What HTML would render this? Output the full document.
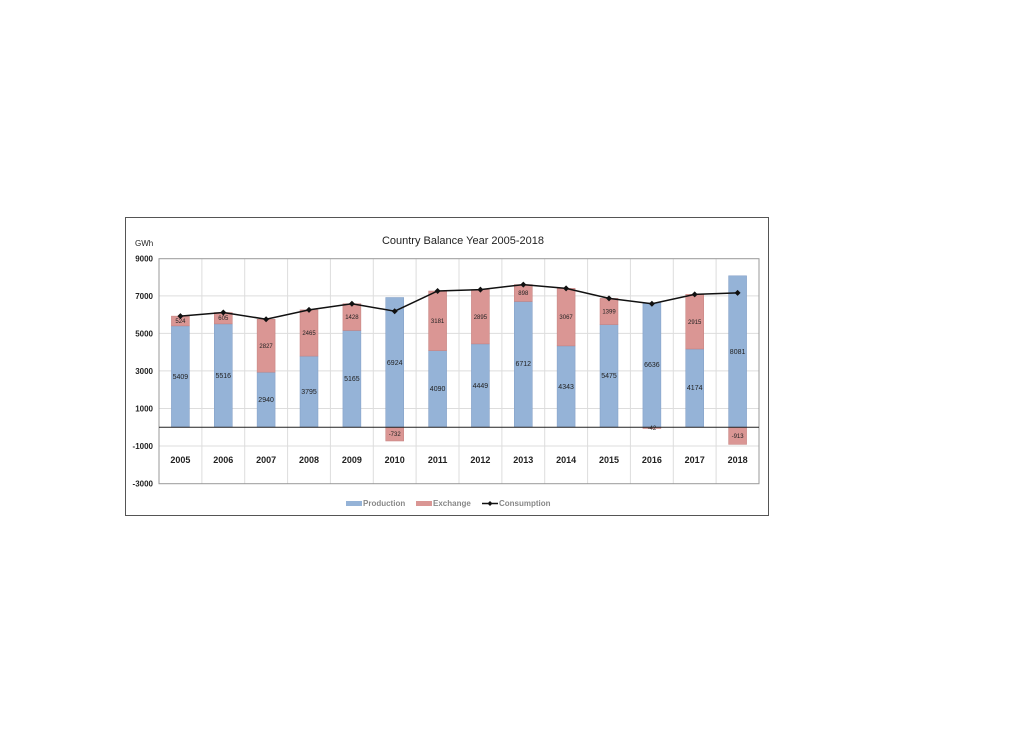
<!DOCTYPE html>
<html><head><meta charset="utf-8"><style>html,body{margin:0;padding:0;background:#fff;}svg{display:block;}</style></head><body>
<svg width="1024" height="738" xmlns="http://www.w3.org/2000/svg" font-family="Liberation Sans, sans-serif">
<rect x="125.5" y="217.5" width="643" height="298" fill="#fff" stroke="#555" stroke-width="1"/>
<text x="463" y="244" font-size="11" text-anchor="middle" fill="#222">Country Balance Year 2005-2018</text>
<text x="135" y="246" font-size="8" fill="#222">GWh</text>
<g stroke="#ddd" stroke-width="1">
<line x1="159" y1="295.9" x2="759" y2="295.9"/><line x1="159" y1="333.4" x2="759" y2="333.4"/><line x1="159" y1="370.9" x2="759" y2="370.9"/><line x1="159" y1="408.5" x2="759" y2="408.5"/><line x1="159" y1="446" x2="759" y2="446"/>
<line x1="201.9" y1="258.7" x2="201.9" y2="483.7"/><line x1="244.7" y1="258.7" x2="244.7" y2="483.7"/><line x1="287.6" y1="258.7" x2="287.6" y2="483.7"/><line x1="330.4" y1="258.7" x2="330.4" y2="483.7"/><line x1="373.3" y1="258.7" x2="373.3" y2="483.7"/><line x1="416.1" y1="258.7" x2="416.1" y2="483.7"/><line x1="459" y1="258.7" x2="459" y2="483.7"/><line x1="501.9" y1="258.7" x2="501.9" y2="483.7"/><line x1="544.7" y1="258.7" x2="544.7" y2="483.7"/><line x1="587.6" y1="258.7" x2="587.6" y2="483.7"/><line x1="630.4" y1="258.7" x2="630.4" y2="483.7"/><line x1="673.3" y1="258.7" x2="673.3" y2="483.7"/><line x1="716.1" y1="258.7" x2="716.1" y2="483.7"/>
</g>
<rect x="159" y="258.7" width="600" height="225" fill="none" stroke="#999"/>
<g font-size="8" font-weight="bold" fill="#222" text-anchor="end">
<text x="153" y="261.5">9000</text><text x="153" y="299">7000</text><text x="153" y="336.5">5000</text><text x="153" y="374">3000</text><text x="153" y="411.5">1000</text><text x="153" y="449">-1000</text><text x="153" y="486.5">-3000</text>
</g>
<g fill="#95b3d7" stroke="#7f9cc4" stroke-width="0.5">
<rect x="171.4" y="325.9" width="18" height="101.4"/><rect x="214.3" y="323.9" width="18" height="103.4"/><rect x="257.1" y="372.2" width="18" height="55.1"/><rect x="300" y="356.1" width="18" height="71.2"/><rect x="342.9" y="330.5" width="18" height="96.8"/><rect x="385.7" y="297.5" width="18" height="129.8"/><rect x="428.6" y="350.6" width="18" height="76.7"/><rect x="471.4" y="343.9" width="18" height="83.4"/><rect x="514.3" y="301.5" width="18" height="125.8"/><rect x="557.1" y="345.9" width="18" height="81.4"/><rect x="600" y="324.6" width="18" height="102.7"/><rect x="642.9" y="302.9" width="18" height="124.4"/><rect x="685.7" y="349" width="18" height="78.3"/><rect x="728.6" y="275.8" width="18" height="151.5"/>
</g>
<g fill="#da9694" stroke="#c47f7d" stroke-width="0.5">
<rect x="171.4" y="316.1" width="18" height="9.8"/><rect x="214.3" y="312.5" width="18" height="11.4"/><rect x="257.1" y="319.2" width="18" height="53"/><rect x="300" y="309.9" width="18" height="46.2"/><rect x="342.9" y="303.7" width="18" height="26.8"/><rect x="385.7" y="427.3" width="18" height="13.7"/><rect x="428.6" y="291" width="18" height="59.6"/><rect x="471.4" y="289.6" width="18" height="54.3"/><rect x="514.3" y="284.6" width="18" height="16.9"/><rect x="557.1" y="288.4" width="18" height="57.5"/><rect x="600" y="298.4" width="18" height="26.2"/><rect x="642.9" y="427.3" width="18" height="1.2"/><rect x="685.7" y="294.4" width="18" height="54.6"/><rect x="728.6" y="427.3" width="18" height="17.1"/>
</g>
<line x1="159" y1="427.3" x2="759" y2="427.3" stroke="#222" stroke-width="1"/>
<g font-size="7" fill="#222" text-anchor="middle">
<text x="180.4" y="379">5409</text><text x="223.3" y="378">5516</text><text x="266.1" y="402">2940</text><text x="309" y="394">3795</text><text x="351.9" y="381">5165</text><text x="394.7" y="365">6924</text><text x="437.6" y="391">4090</text><text x="480.4" y="388">4449</text><text x="523.3" y="366">6712</text><text x="566.1" y="389">4343</text><text x="609" y="378">5475</text><text x="651.9" y="367">6636</text><text x="694.7" y="390">4174</text><text x="737.6" y="354">8081</text>
</g>
<g font-size="6" fill="#222" text-anchor="middle">
<text x="180.4" y="323">524</text><text x="223.3" y="320">605</text><text x="266.1" y="348">2827</text><text x="309" y="335">2465</text><text x="351.9" y="319">1428</text><text x="394.7" y="436">-732</text><text x="437.6" y="323">3181</text><text x="480.4" y="319">2895</text><text x="523.3" y="295">898</text><text x="566.1" y="319">3067</text><text x="609" y="313.5">1399</text><text x="651.9" y="430">-42</text><text x="694.7" y="324">2915</text><text x="737.6" y="438">-913</text>
</g>
<polyline fill="none" stroke="#111" stroke-width="1.5" points="180.4,316.1 223.3,312.5 266.1,319.2 309,309.9 351.9,303.7 394.7,311.2 437.6,291 480.4,289.6 523.3,284.6 566.1,288.4 609,298.4 651.9,303.7 694.7,294.4 737.6,292.9"/>
<g fill="#111">
<path d="M180.4 313.1l3 3-3 3-3-3z"/><path d="M223.3 309.5l3 3-3 3-3-3z"/><path d="M266.1 316.2l3 3-3 3-3-3z"/><path d="M309 306.9l3 3-3 3-3-3z"/><path d="M351.9 300.7l3 3-3 3-3-3z"/><path d="M394.7 308.2l3 3-3 3-3-3z"/><path d="M437.6 288l3 3-3 3-3-3z"/><path d="M480.4 286.6l3 3-3 3-3-3z"/><path d="M523.3 281.6l3 3-3 3-3-3z"/><path d="M566.1 285.4l3 3-3 3-3-3z"/><path d="M609 295.4l3 3-3 3-3-3z"/><path d="M651.9 300.7l3 3-3 3-3-3z"/><path d="M694.7 291.4l3 3-3 3-3-3z"/><path d="M737.6 289.9l3 3-3 3-3-3z"/>
</g>
<g font-size="9" font-weight="bold" fill="#222" text-anchor="middle">
<text x="180.4" y="463">2005</text><text x="223.3" y="463">2006</text><text x="266.1" y="463">2007</text><text x="309" y="463">2008</text><text x="351.9" y="463">2009</text><text x="394.7" y="463">2010</text><text x="437.6" y="463">2011</text><text x="480.4" y="463">2012</text><text x="523.3" y="463">2013</text><text x="566.1" y="463">2014</text><text x="609" y="463">2015</text><text x="651.9" y="463">2016</text><text x="694.7" y="463">2017</text><text x="737.6" y="463">2018</text>
</g>
<rect x="346" y="501" width="16" height="5" fill="#95b3d7"/>
<text x="363" y="506" font-size="8" font-weight="bold" fill="#888">Production</text>
<rect x="416" y="501" width="16" height="5" fill="#da9694"/>
<text x="433" y="506" font-size="8" font-weight="bold" fill="#888">Exchange</text>
<line x1="482" y1="503.5" x2="498" y2="503.5" stroke="#111" stroke-width="1.5"/>
<path d="M490 501l2.5 2.5-2.5 2.5-2.5-2.5z" fill="#111"/>
<text x="499" y="506" font-size="8" font-weight="bold" fill="#888">Consumption</text>
</svg>
</body></html>
